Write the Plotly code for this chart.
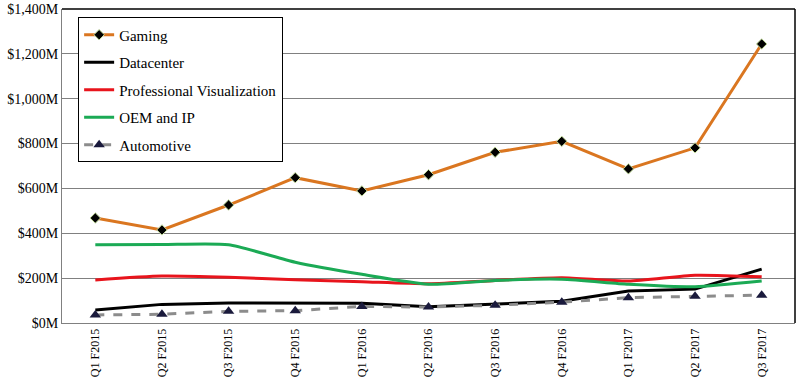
import plotly.graph_objects as go

quarters = ["Q1 F2015", "Q2 F2015", "Q3 F2015", "Q4 F2015", "Q1 F2016", "Q2 F2016",
            "Q3 F2016", "Q4 F2016", "Q1 F2017", "Q2 F2017", "Q3 F2017"]
gaming = [468, 415, 526, 648, 589, 661, 761, 810, 687, 781, 1244]
datacenter = [58, 83, 89, 89, 88, 72, 84, 97, 143, 151, 240]
pro_vis = [192, 209, 204, 193, 184, 175, 190, 202, 187, 213, 206]
oem_ip = [349, 350, 349, 271, 217, 173, 190, 195, 173, 162, 187]
automotive = [36, 39, 52, 55, 74, 71, 79, 93, 113, 119, 124]

ytick_vals = [0, 200, 400, 600, 800, 1000, 1200, 1400]
ytick_text = ["$0M", "$200M", "$400M", "$600M", "$800M", "$1,000M", "$1,200M", "$1,400M"]

FONT = "Liberation Serif"

fig = go.Figure()
fig.add_trace(go.Scatter(x=quarters, y=gaming, name="Gaming", mode="lines+markers",
                         line=dict(color="#DA7620", width=3),
                         marker=dict(symbol="diamond", size=8, color="#000000",
                                     line=dict(color="#C8E0A0", width=1)),
                         legendgroup="g1"))
fig.add_trace(go.Scatter(x=quarters, y=datacenter, name="Datacenter", mode="lines",
                         line=dict(color="#000000", width=3), legendgroup="g2"))
fig.add_trace(go.Scatter(x=quarters, y=pro_vis, name="Professional Visualization", mode="lines",
                         line=dict(color="#E8141C", width=3, shape="spline", smoothing=0.6),
                         legendgroup="g3"))
fig.add_trace(go.Scatter(x=quarters, y=oem_ip, name="OEM and IP", mode="lines",
                         line=dict(color="#1BAA55", width=3, shape="spline", smoothing=0.6),
                         legendgroup="g4"))
fig.add_trace(go.Scatter(x=quarters, y=automotive, name="Automotive", mode="lines+markers",
                         line=dict(color="#8C8C8C", width=3, dash="dash"),
                         marker=dict(symbol="triangle-up", size=10, color="#1A1A3C"),
                         legendgroup="g5"))

fig.update_layout(
    width=800, height=385,
    margin=dict(l=62, r=5, t=9, b=62),
    paper_bgcolor="white", plot_bgcolor="white",
    font=dict(family=FONT, size=13, color="#000000"),
    legend=dict(x=0.022, y=0.973, xanchor="left", yanchor="top",
                bordercolor="#000000", borderwidth=1, bgcolor="white",
                font=dict(family=FONT, size=15, color="#000000"),
                tracegroupgap=5),
    xaxis=dict(type="category", range=[-0.5, 10.5], showgrid=False, automargin=False,
               showline=True, linecolor="#808080", linewidth=1,
               ticks="", tickangle=-90, tickfont=dict(family=FONT, size=12)),
    yaxis=dict(range=[0, 1400], tickvals=ytick_vals, ticktext=ytick_text, automargin=False,
               showgrid=True, gridcolor="#808080", gridwidth=1,
               showline=True, linecolor="#808080", linewidth=1,
               zeroline=False, ticks="", tickfont=dict(family=FONT, size=14)),
    shapes=[
        dict(type="line", xref="paper", yref="paper", x0=0, x1=1, y0=1, y1=1,
             line=dict(color="#000000", width=1.5)),
        dict(type="line", xref="paper", yref="paper", x0=1, x1=1, y0=0, y1=1,
             line=dict(color="#000000", width=1.5)),
    ],
)

fig.write_html("out.html", config={"displayModeBar": False},
               post_script="document.body.style.margin='0';document.body.style.overflow='hidden';")
